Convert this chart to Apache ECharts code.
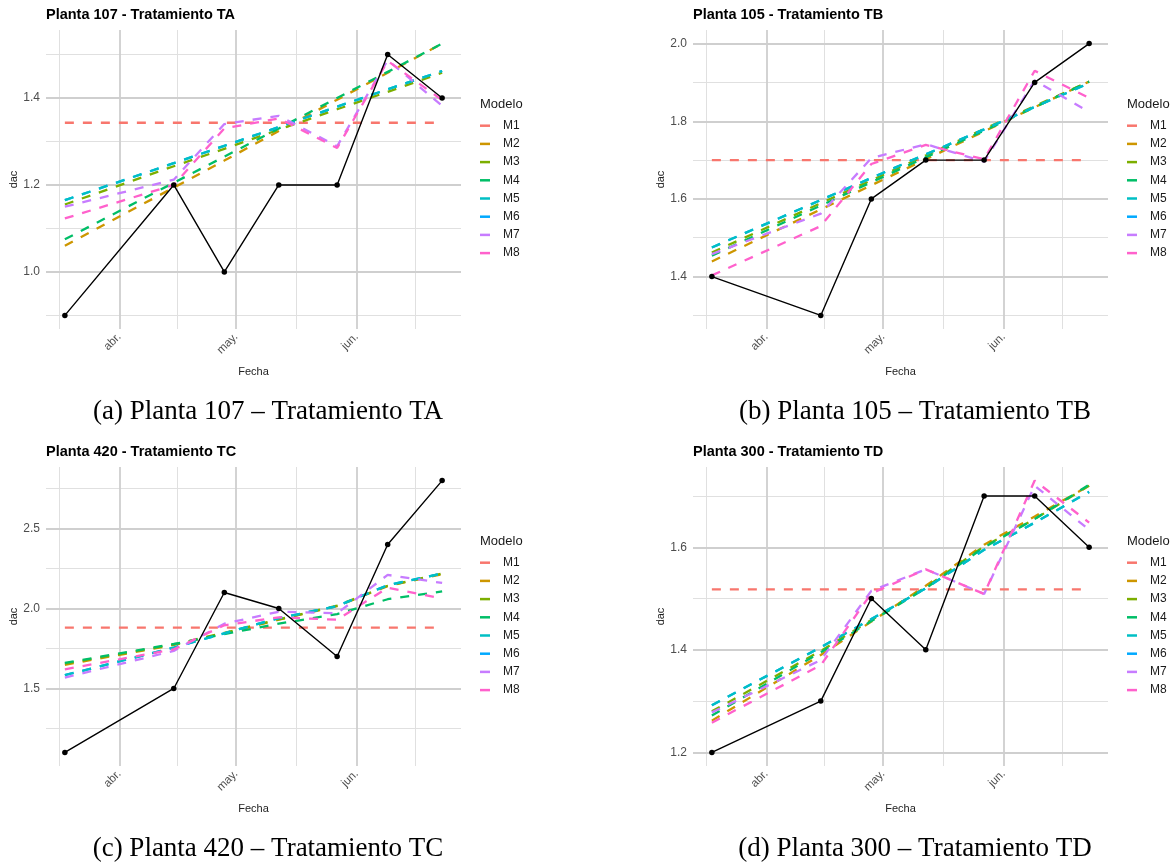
<!DOCTYPE html>
<html>
<head>
<meta charset="utf-8">
<title>Modelos dac por planta</title>
<script src="https://cdn.jsdelivr.net/npm/echarts@6/dist/echarts.min.js"></script>
<style>
    html, body { margin: 0; padding: 0; background: #fff; }
    #chart { width: 1174px; height: 864px; }
</style>
</head>
<body>
<div id="chart"></div>
<script>
// fechas de medición (comunes a las cuatro plantas)
const fechas = ['2023-03-18', '2023-04-15', '2023-04-28', '2023-05-12', '2023-05-27', '2023-06-09', '2023-06-23'];
const modelos = ['M1', 'M2', 'M3', 'M4', 'M5', 'M6', 'M7', 'M8'];
const colores = ['#F8766D', '#CD9600', '#7CAE00', '#00BE67', '#00BFC4', '#00A9FF', '#C77CFF', '#FF61CC'];
// orden de dibujo: M6 queda debajo de M5 como en el original
const ordenDibujo = [0, 1, 2, 3, 5, 4, 6, 7];
const meses = ['ene.', 'feb.', 'mar.', 'abr.', 'may.', 'jun.', 'jul.', 'ago.', 'sept.', 'oct.', 'nov.', 'dic.'];

// marcas del eje x
const xMayor = ['2023-04-01', '2023-05-01', '2023-06-01'];
const xMenor = ['2023-03-16T12:00:00Z', '2023-04-16T00:00:00Z', '2023-05-16T12:00:00Z', '2023-06-16T00:00:00Z'];

// Planta 107 - TA
const dac107 = [0.9, 1.2, 1.0, 1.2, 1.2, 1.5, 1.4];
const mod107 = [
    [1.343, 1.343, 1.343, 1.343, 1.343, 1.343, 1.343],
    [1.06, 1.194, 1.256, 1.324, 1.396, 1.458, 1.525],
    [1.155, 1.243, 1.283, 1.327, 1.374, 1.414, 1.458],
    [1.075, 1.205, 1.265, 1.33, 1.40, 1.46, 1.525],
    [1.165, 1.25, 1.29, 1.333, 1.38, 1.42, 1.462],
    [1.165, 1.25, 1.29, 1.333, 1.38, 1.42, 1.462],
    [1.15, 1.212, 1.34, 1.359, 1.289, 1.487, 1.382],
    [1.123, 1.2, 1.33, 1.353, 1.285, 1.485, 1.395]
];
const yMayor107 = [1.0, 1.2, 1.4];
const yMenor107 = [0.9, 1.1, 1.3, 1.5];

// Planta 105 - TB
const dac105 = [1.4, 1.3, 1.6, 1.7, 1.7, 1.9, 2.0];
const mod105 = [
    [1.7, 1.7, 1.7, 1.7, 1.7, 1.7, 1.7],
    [1.439, 1.573, 1.635, 1.702, 1.774, 1.836, 1.902],
    [1.462, 1.589, 1.648, 1.712, 1.78, 1.839, 1.902],
    [1.454, 1.583, 1.643, 1.707, 1.776, 1.836, 1.902],
    [1.475, 1.597, 1.654, 1.715, 1.779, 1.837, 1.898],
    [1.475, 1.597, 1.654, 1.715, 1.779, 1.837, 1.898],
    [1.458, 1.562, 1.705, 1.741, 1.696, 1.905, 1.824],
    [1.403, 1.53, 1.69, 1.739, 1.702, 1.93, 1.86]
];
const yMayor105 = [1.4, 1.6, 1.8, 2.0];
const yMenor105 = [1.3, 1.5, 1.7, 1.9];

// Planta 420 - TC
const dac420 = [1.1, 1.5, 2.1, 2.0, 1.7, 2.4, 2.8];
const mod420 = [
    [1.881, 1.881, 1.881, 1.881, 1.881, 1.881, 1.881],
    [1.648, 1.772, 1.845, 1.93, 2.015, 2.14, 2.215],
    [1.655, 1.775, 1.848, 1.932, 2.018, 2.142, 2.218],
    [1.66, 1.778, 1.84, 1.905, 1.965, 2.058, 2.107],
    [1.583, 1.755, 1.845, 1.94, 2.015, 2.146, 2.219],
    [1.583, 1.755, 1.845, 1.94, 2.015, 2.146, 2.219],
    [1.568, 1.735, 1.905, 1.98, 1.97, 2.21, 2.16],
    [1.62, 1.745, 1.895, 1.945, 1.93, 2.13, 2.062]
];
const yMayor420 = [1.5, 2.0, 2.5];
const yMenor420 = [1.25, 1.75, 2.25, 2.75];

// Planta 300 - TD
const dac300 = [1.2, 1.3, 1.5, 1.4, 1.7, 1.7, 1.6];
const mod300 = [
    [1.518, 1.518, 1.518, 1.518, 1.518, 1.518, 1.518],
    [1.262, 1.39, 1.455, 1.525, 1.605, 1.66, 1.72],
    [1.28, 1.398, 1.458, 1.522, 1.602, 1.655, 1.72],
    [1.272, 1.395, 1.456, 1.52, 1.6, 1.655, 1.722],
    [1.292, 1.405, 1.46, 1.52, 1.595, 1.648, 1.708],
    [1.292, 1.405, 1.46, 1.52, 1.595, 1.648, 1.708],
    [1.278, 1.38, 1.515, 1.557, 1.509, 1.72, 1.634],
    [1.258, 1.37, 1.51, 1.557, 1.509, 1.73, 1.648]
];
const yMayor300 = [1.2, 1.4, 1.6];
const yMenor300 = [1.3, 1.5, 1.7];

const paneles = [
    { titulo: 'Planta 107 - Tratamiento TA', pie: '(a) Planta 107 – Tratamiento TA', dac: dac107, mod: mod107, yMayor: yMayor107, yMenor: yMenor107, ox: 0, oy: 0 },
    { titulo: 'Planta 105 - Tratamiento TB', pie: '(b) Planta 105 – Tratamiento TB', dac: dac105, mod: mod105, yMayor: yMayor105, yMenor: yMenor105, ox: 647, oy: 0 },
    { titulo: 'Planta 420 - Tratamiento TC', pie: '(c) Planta 420 – Tratamiento TC', dac: dac420, mod: mod420, yMayor: yMayor420, yMenor: yMenor420, ox: 0, oy: 437 },
    { titulo: 'Planta 300 - Tratamiento TD', pie: '(d) Planta 300 – Tratamiento TD', dac: dac300, mod: mod300, yMayor: yMayor300, yMenor: yMenor300, ox: 647, oy: 437 }
];

const SANS = '"Liberation Sans", Arial, sans-serif';
const ms = s => Date.parse(s.length === 10 ? s + 'T00:00:00Z' : s);
const xs = fechas.map(ms);
const xPad = (xs[xs.length - 1] - xs[0]) * 0.05;
const gridMayor = { color: '#cfcfcf', width: 1.8, type: 'solid' };
const gridMenor = { color: '#e0e0e0', width: 1, type: 'solid' };

const grid = [], xAxis = [], yAxis = [], series = [], title = [], legend = [], graphic = [];

paneles.forEach((p, i) => {
    const todos = p.dac.concat(...p.mod);
    const lo = Math.min(...todos), hi = Math.max(...todos);
    const yPad = (hi - lo) * 0.05;

    grid.push({ left: p.ox + 46, top: p.oy + 30, width: 415, height: 299, containLabel: false });

    xAxis.push({
        type: 'value',
        gridIndex: i,
        min: xs[0] - xPad,
        max: xs[xs.length - 1] + xPad,
        axisLine: { show: false },
        axisTick: { show: false },
        splitLine: { show: false },
        axisLabel: {
            customValues: xMayor.map(ms),
            formatter: v => meses[new Date(v).getUTCMonth()],
            rotate: 45,
            margin: 6,
            color: '#4d4d4d',
            fontSize: 11.5,
            fontFamily: SANS
        },
        name: 'Fecha',
        nameLocation: 'middle',
        nameGap: 37,
        nameTextStyle: { color: '#222', fontSize: 11, fontFamily: SANS }
    });

    yAxis.push({
        type: 'value',
        gridIndex: i,
        min: lo - yPad,
        max: hi + yPad,
        axisLine: { show: false },
        axisTick: { show: false },
        splitLine: { show: false },
        axisLabel: {
            customValues: p.yMayor,
            formatter: v => v.toFixed(1),
            margin: 6,
            color: '#4d4d4d',
            fontSize: 12,
            fontFamily: SANS
        },
        name: 'dac',
        nameLocation: 'middle',
        nameGap: 27,
        nameTextStyle: { color: '#222', fontSize: 11, fontFamily: SANS }
    });

    title.push({
        text: p.titulo,
        left: p.ox + 46,
        top: p.oy + 7,
        padding: 0,
        textStyle: { fontSize: 14.5, fontWeight: 'bold', color: '#000', fontFamily: SANS }
    });

    legend.push({
        data: modelos,
        orient: 'vertical',
        left: p.ox + 480,
        top: p.oy + 118.7,
        padding: 0,
        icon: 'rect',
        itemWidth: 10,
        itemHeight: 2.5,
        itemGap: 4.2,
        selectedMode: false,
        textStyle: { fontSize: 12, color: '#1a1a1a', fontFamily: SANS, lineHeight: 14, padding: [0, 0, 0, 8] }
    });

    graphic.push({
        type: 'text',
        x: p.ox + 480,
        y: p.oy + 104.3,
        style: { text: 'Modelo', font: '13px ' + SANS, fill: '#1a1a1a', textAlign: 'left', align: 'left', textVerticalAlign: 'middle', verticalAlign: 'middle' }
    });
    graphic.push({
        type: 'text',
        x: p.ox + 268,
        y: p.oy + 412,
        style: { text: p.pie, font: '27px "Liberation Serif", "Times New Roman", serif', fill: '#000', textAlign: 'center', align: 'center', textVerticalAlign: 'middle', verticalAlign: 'middle' }
    });

    ordenDibujo.forEach(j => {
        const vals = p.mod[j];
        series.push({
            type: 'line',
            name: modelos[j],
            xAxisIndex: i,
            yAxisIndex: i,
            data: xs.map((x, k) => [x, vals[k]]),
            symbol: 'none',
            color: colores[j],
            lineStyle: { width: 2.3, type: [9, 9], color: colores[j] },
            z: 2,
            silent: true
        });
    });

    // rejilla (líneas menores y mayores) + observaciones
    const lineas = []
        .concat(p.yMenor.map(v => ({ yAxis: v, lineStyle: gridMenor })))
        .concat(xMenor.map(d => ({ xAxis: ms(d), lineStyle: gridMenor })))
        .concat(p.yMayor.map(v => ({ yAxis: v, lineStyle: gridMayor })))
        .concat(xMayor.map(d => ({ xAxis: ms(d), lineStyle: gridMayor })));

    series.push({
        type: 'line',
        name: 'dac',
        xAxisIndex: i,
        yAxisIndex: i,
        data: xs.map((x, k) => [x, p.dac[k]]),
        symbol: 'circle',
        symbolSize: 5.5,
        color: '#000',
        itemStyle: { color: '#000' },
        lineStyle: { width: 1.4, color: '#000' },
        z: 3,
        silent: true,
        markLine: {
            silent: true,
            symbol: 'none',
            z: 1,
            label: { show: false },
            emphasis: { disabled: true },
            data: lineas
        }
    });
});

const chart = echarts.init(document.getElementById('chart'), null, { renderer: 'canvas' });
chart.setOption({
    animation: false,
    backgroundColor: '#fff',
    title: title,
    legend: legend,
    grid: grid,
    xAxis: xAxis,
    yAxis: yAxis,
    graphic: graphic,
    series: series
});
</script>
</body>
</html>
